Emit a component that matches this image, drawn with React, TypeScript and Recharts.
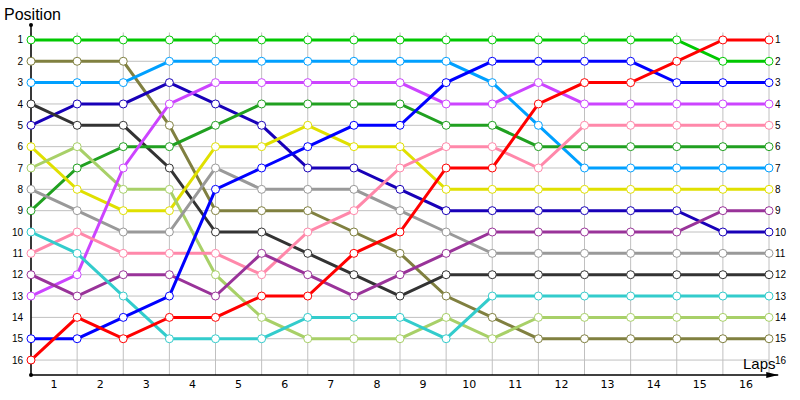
import React from 'react';
import { LineChart, Line, XAxis, YAxis, ReferenceLine, ReferenceDot } from 'recharts';

const laps = [0, 1, 2, 3, 4, 5, 6, 7, 8, 9, 10, 11, 12, 13, 14, 15, 16];
const lapLabels = [1, 2, 3, 4, 5, 6, 7, 8, 9, 10, 11, 12, 13, 14, 15, 16];
const positions = [1, 2, 3, 4, 5, 6, 7, 8, 9, 10, 11, 12, 13, 14, 15, 16];

const brightGreen = [1, 1, 1, 1, 1, 1, 1, 1, 1, 1, 1, 1, 1, 1, 1, 2, 2];
const olive = [2, 2, 2, 5, 9, 9, 9, 10, 11, 13, 14, 15, 15, 15, 15, 15, 15];
const lightBlue = [3, 3, 3, 2, 2, 2, 2, 2, 2, 2, 3, 5, 7, 7, 7, 7, 7];
const navy = [5, 4, 4, 3, 4, 5, 7, 7, 8, 9, 9, 9, 9, 9, 9, 10, 10];
const charcoal = [4, 5, 5, 7, 10, 10, 11, 12, 13, 12, 12, 12, 12, 12, 12, 12, 12];
const forest = [9, 7, 6, 6, 5, 4, 4, 4, 4, 5, 5, 6, 6, 6, 6, 6, 6];
const yellow = [6, 8, 9, 9, 6, 6, 5, 6, 6, 8, 8, 8, 8, 8, 8, 8, 8];
const lime = [7, 6, 8, 8, 12, 14, 15, 15, 15, 14, 15, 14, 14, 14, 14, 14, 14];
const grey = [8, 9, 10, 10, 7, 8, 8, 8, 9, 10, 11, 11, 11, 11, 11, 11, 11];
const magenta = [13, 12, 7, 4, 3, 3, 3, 3, 3, 4, 4, 3, 4, 4, 4, 4, 4];
const pink = [11, 10, 11, 11, 11, 12, 10, 9, 7, 6, 6, 7, 5, 5, 5, 5, 5];
const purple = [12, 13, 12, 12, 13, 11, 12, 13, 12, 11, 10, 10, 10, 10, 10, 9, 9];
const cyan = [10, 11, 13, 15, 15, 15, 14, 14, 14, 15, 13, 13, 13, 13, 13, 13, 13];
const blue = [15, 15, 14, 13, 8, 7, 6, 5, 5, 3, 2, 2, 2, 2, 3, 3, 3];
const red = [16, 14, 15, 14, 14, 13, 13, 11, 10, 7, 7, 4, 3, 3, 2, 1, 1];

const series = [
  { key: 'brightGreen', values: brightGreen, color: '#00c800' },
  { key: 'olive', values: olive, color: '#808040' },
  { key: 'lightBlue', values: lightBlue, color: '#00a0ff' },
  { key: 'navy', values: navy, color: '#1800b8' },
  { key: 'charcoal', values: charcoal, color: '#333333' },
  { key: 'forest', values: forest, color: '#20a020' },
  { key: 'yellow', values: yellow, color: '#e0e000' },
  { key: 'lime', values: lime, color: '#a8d068' },
  { key: 'grey', values: grey, color: '#999999' },
  { key: 'magenta', values: magenta, color: '#cc44ff' },
  { key: 'pink', values: pink, color: '#ff88aa' },
  { key: 'purple', values: purple, color: '#993399' },
  { key: 'cyan', values: cyan, color: '#33cccc' },
  { key: 'blue', values: blue, color: '#0000ff' },
  { key: 'red', values: red, color: '#ff0000' },
];

const data = laps.map((lap, i) => {
  const row: Record<string, number> = { lap };
  series.forEach((s) => {
    row[s.key] = s.values[i];
  });
  return row;
});

const yDomain = [0.3, 16.7];
const gridTop = 0.65;
const lastLap = laps[laps.length - 1];

const ArrowLine = (p: any) => (
  <g>
    <line x1={p.x1} y1={p.y1} x2={p.x2} y2={p.y2} stroke="#000" strokeWidth={1.5} />
    <polygon points={`${p.x2},${p.y2} ${p.x2 - 12},${p.y2 - 3} ${p.x2 - 12},${p.y2 + 3}`} fill="#000" />
  </g>
);

export default function App() {
  return (
    <div style={{ position: 'absolute', left: 0, top: 0, width: 800, height: 400, background: '#fff' }}>
      <LineChart width={800} height={400} data={data} margin={{ top: 25, right: 31, bottom: 25, left: 31 }}>
        <XAxis dataKey="lap" type="number" domain={[0, 16]} ticks={laps} interval={0} hide />
        <YAxis type="number" domain={yDomain} reversed ticks={positions} interval={0} hide />
        {laps.map((l) => (
          <ReferenceLine
            key={'v' + l}
            segment={[{ x: l, y: gridTop }, { x: l, y: yDomain[1] }]}
            stroke="#c0c0c0"
            strokeWidth={1}
            ifOverflow="visible"
          />
        ))}
        {positions.map((p) => (
          <ReferenceLine
            key={'h' + p}
            segment={[{ x: 0, y: p }, { x: lastLap, y: p }]}
            stroke="#c0c0c0"
            strokeWidth={1}
            ifOverflow="visible"
          />
        ))}
        {positions.map((p) => (
          <ReferenceDot
            key={'r' + p}
            x={lastLap}
            y={p}
            r={0}
            fill="none"
            stroke="none"
            ifOverflow="visible"
            label={{ value: String(p), position: 'right', fontSize: 10, fill: '#000', fontFamily: 'Liberation Sans', offset: 6 }}
          />
        ))}
        {positions.map((p) => (
          <ReferenceDot
            key={'l' + p}
            x={0}
            y={p}
            r={0}
            fill="none"
            stroke="none"
            ifOverflow="visible"
            label={{ value: String(p), position: 'left', fontSize: 10, fill: '#000', fontFamily: 'Liberation Sans', offset: 8 }}
          />
        ))}
        {lapLabels.map((l) => (
          <ReferenceDot
            key={'x' + l}
            x={l - 0.5}
            y={yDomain[1]}
            r={0}
            fill="none"
            stroke="none"
            ifOverflow="visible"
            label={{ value: String(l), position: 'bottom', fontSize: 11, fill: '#000', fontFamily: 'DejaVu Sans', offset: 5 }}
          />
        ))}
        <ReferenceLine segment={[{ x: 0, y: yDomain[0] }, { x: 0, y: yDomain[1] }]} ifOverflow="visible" stroke="#000" strokeWidth={1.5} />
        <ReferenceLine
          segment={[{ x: 0, y: yDomain[1] }, { x: 16.2, y: yDomain[1] }]}
          ifOverflow="visible"
          shape={ArrowLine}
        />
        <ReferenceDot x={0} y={yDomain[0]} r={2} fill="#000" stroke="none" ifOverflow="visible" />
        <ReferenceDot x={0} y={yDomain[1]} r={2} fill="#000" stroke="none" ifOverflow="visible" />
        {series.map((s) => (
          <Line
            key={s.key}
            dataKey={s.key}
            type="linear"
            stroke={s.color}
            strokeWidth={3}
            dot={{ r: 4, fill: '#fff', stroke: s.color, strokeWidth: 1 }}
            activeDot={false}
            isAnimationActive={false}
          />
        ))}
      </LineChart>
      <div style={{ position: 'absolute', left: 4, top: 6, fontFamily: 'Liberation Sans', fontSize: 16, color: '#000' }}>
        Position
      </div>
      <div style={{ position: 'absolute', left: 743, top: 355, fontFamily: 'Liberation Sans', fontSize: 15, color: '#000' }}>
        Laps
      </div>
    </div>
  );
}
